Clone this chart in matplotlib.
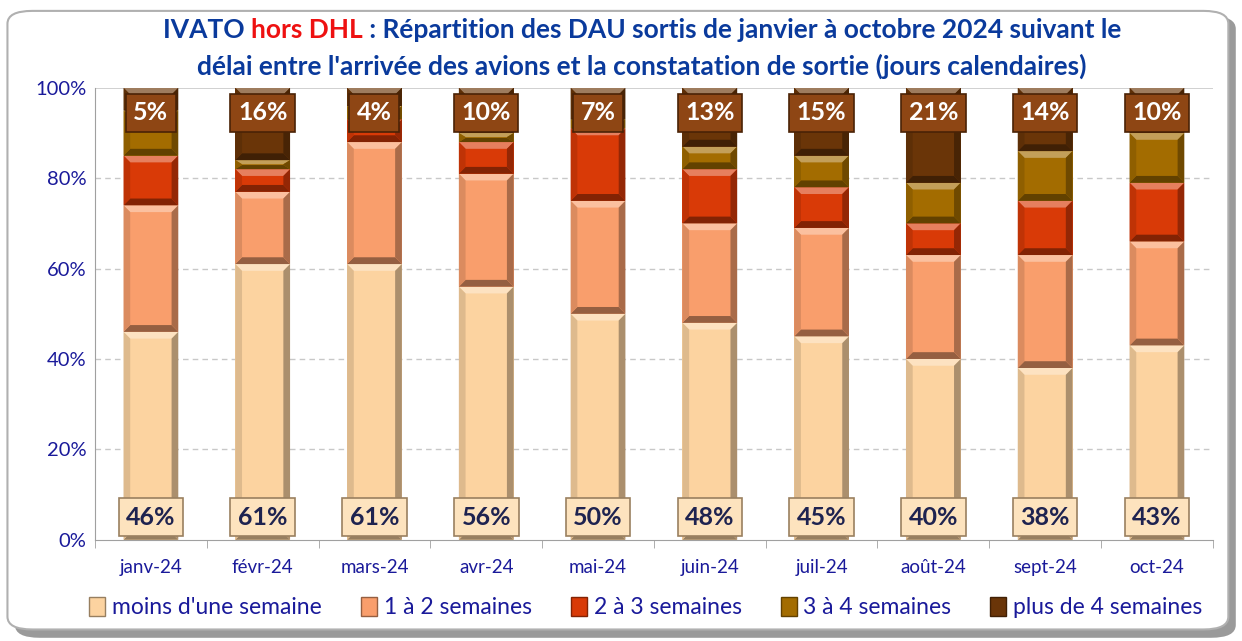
import numpy as np
import matplotlib
matplotlib.use("Agg")
import matplotlib.pyplot as plt
from matplotlib.patches import Polygon, Patch, FancyBboxPatch
from matplotlib.colors import to_rgb

plt.rcParams["font.family"] = ["Lato", "DejaVu Sans"]

# ── Data (percent of DAU per month) ──────────────────────────────────────────
months = ["janv-24", "févr-24", "mars-24", "avr-24", "mai-24",
          "juin-24", "juil-24", "août-24", "sept-24", "oct-24"]
moins_1_sem = [46, 61, 61, 56, 50, 48, 45, 40, 38, 43]
sem_1_2 = [28, 16, 27, 25, 25, 22, 24, 23, 25, 23]
sem_2_3 = [11, 5, 5, 7, 16, 12, 9, 7, 12, 13]
sem_3_4 = [10, 2, 3, 2, 2, 5, 7, 9, 11, 11]
plus_4_sem = [5, 16, 4, 10, 7, 13, 15, 21, 14, 10]

series = [moins_1_sem, sem_1_2, sem_2_3, sem_3_4, plus_4_sem]
names = ["moins d'une semaine", "1 à 2 semaines", "2 à 3 semaines",
         "3 à 4 semaines", "plus de 4 semaines"]
colors = ["#FCD3A0", "#F99E6C", "#D93A07", "#A36C00", "#6A3508"]

NAVY = "#1A1A9A"
TITLE_BLUE = "#0A3A9C"


def shade(c, f):
    r = np.array(to_rgb(c))
    if f >= 0:
        return tuple(r + (1 - r) * f)
    return tuple(r * (1 + f))


def bevel_bar(ax, x, y0, h, w, c, dx=0.06, dy=1.5):
    x0, x1 = x - w / 2, x + w / 2
    y1 = y0 + h
    d = min(dy, h / 2.2)
    ex = min(dx, w / 3)
    ax.add_patch(Polygon([(x0, y0), (x1, y0), (x1, y1), (x0, y1)],
                         closed=True, fc=c, ec="none", zorder=2))
    ix0, ix1, iy0, iy1 = x0 + ex, x1 - ex, y0 + d, y1 - d
    ax.add_patch(Polygon([(x0, y1), (x1, y1), (ix1, iy1), (ix0, iy1)],
                         fc=shade(c, 0.35), ec="none", zorder=2))
    ax.add_patch(Polygon([(x0, y0), (x1, y0), (ix1, iy0), (ix0, iy0)],
                         fc=shade(c, -0.4), ec="none", zorder=2))
    ax.add_patch(Polygon([(x0, y0), (x0, y1), (ix0, iy1), (ix0, iy0)],
                         fc=shade(c, -0.12), ec="none", zorder=2))
    ax.add_patch(Polygon([(x1, y0), (x1, y1), (ix1, iy1), (ix1, iy0)],
                         fc=shade(c, -0.32), ec="none", zorder=2))


fig = plt.figure(figsize=(12.42, 6.41), dpi=100)

# outer frame with shadow
fig.patches.append(FancyBboxPatch((0.012, 0.005), 0.983, 0.97,
                                  boxstyle="round,pad=0,rounding_size=0.02",
                                  transform=fig.transFigure, fc="#9a9a9a",
                                  ec="none", zorder=-3))
fig.patches.append(FancyBboxPatch((0.006, 0.018), 0.983, 0.965,
                                  boxstyle="round,pad=0,rounding_size=0.02",
                                  transform=fig.transFigure, fc="white",
                                  ec="#b0b0b0", lw=1.5, zorder=-2))

ax = fig.add_axes([0.0765, 0.158, 0.9, 0.705])
ax.set_zorder(1)
ax.patch.set_alpha(0)

x = np.arange(len(months))
w = 0.49
bottoms = np.zeros(len(months))
for vals, c in zip(series, colors):
    for i, v in enumerate(vals):
        bevel_bar(ax, x[i], bottoms[i], v, w, c)
    bottoms += np.array(vals, dtype=float)

# data labels: first series at bottom, last series at top
for i in range(len(months)):
    ax.text(x[i], 5, f"{moins_1_sem[i]}%", ha="center", va="center",
            fontsize=18, fontweight="bold", color="#1E2350", zorder=5,
            bbox=dict(boxstyle="square,pad=0.3", fc="#FDE3BE", ec="#9a8060", lw=1.2))
    ax.text(x[i], 94.5, f"{plus_4_sem[i]}%", ha="center", va="center",
            fontsize=18, fontweight="bold", color="white", zorder=5,
            bbox=dict(boxstyle="square,pad=0.3", fc="#8E4614", ec="#4a2206", lw=1.2))

ax.set_xlim(-0.5, len(months) - 0.5)
ax.set_ylim(0, 100)
ax.set_yticks(np.arange(0, 101, 20))
ax.set_yticklabels([f"{v}%" for v in range(0, 101, 20)])
ax.set_xticks(x)
ax.set_xticklabels(months)
ax.set_xticks(np.arange(-0.5, len(months)), minor=True)
ax.tick_params(axis="x", which="major", length=0, pad=14, labelsize=13.5, labelcolor=NAVY)
ax.tick_params(axis="x", which="minor", length=6, color="#a0a0a0", direction="out")
ax.tick_params(axis="y", length=0, pad=6, labelsize=14.5, labelcolor=NAVY)

for v in (20, 40, 60, 80):
    ax.axhline(v, color="#c8c8c8", ls=(0, (4, 3)), lw=1, zorder=0)
ax.axhline(100, color="#c8c8c8", lw=1.2, zorder=0)
for s in ("top", "right"):
    ax.spines[s].set_visible(False)
ax.spines["left"].set_color("#a0a0a0")
ax.spines["bottom"].set_color("#a0a0a0")

# legend
handles = [Patch(fc=c, ec=shade(c, -0.4), lw=1) for c in colors]
leg = fig.legend(handles, names, loc="center", bbox_to_anchor=(0.52, 0.052),
                 ncol=5, frameon=False, fontsize=16.5, handlelength=0.7,
                 handleheight=0.9, handletextpad=0.3, columnspacing=1.7)
for t in leg.get_texts():
    t.set_color(NAVY)

# title, first line in three colours
r = fig.canvas.get_renderer()
parts = [("IVATO ", TITLE_BLUE), ("hors DHL", "#EE1111"),
         (" : Répartition des DAU sortis de janvier à octobre 2024 suivant le", TITLE_BLUE)]
objs = [fig.text(0, 0.953, s, color=c, fontsize=19, fontweight="bold",
                 va="center", ha="left") for s, c in parts]
widths = [o.get_window_extent(r).width / fig.bbox.width for o in objs]
xpos = 0.517 - sum(widths) / 2
for o, wd in zip(objs, widths):
    o.set_x(xpos)
    xpos += wd
fig.text(0.517, 0.897,
         "délai entre l'arrivée des avions et la constatation de sortie (jours calendaires)",
         color=TITLE_BLUE, fontsize=19, fontweight="bold", ha="center", va="center")

fig.savefig("out.png", dpi=100)
